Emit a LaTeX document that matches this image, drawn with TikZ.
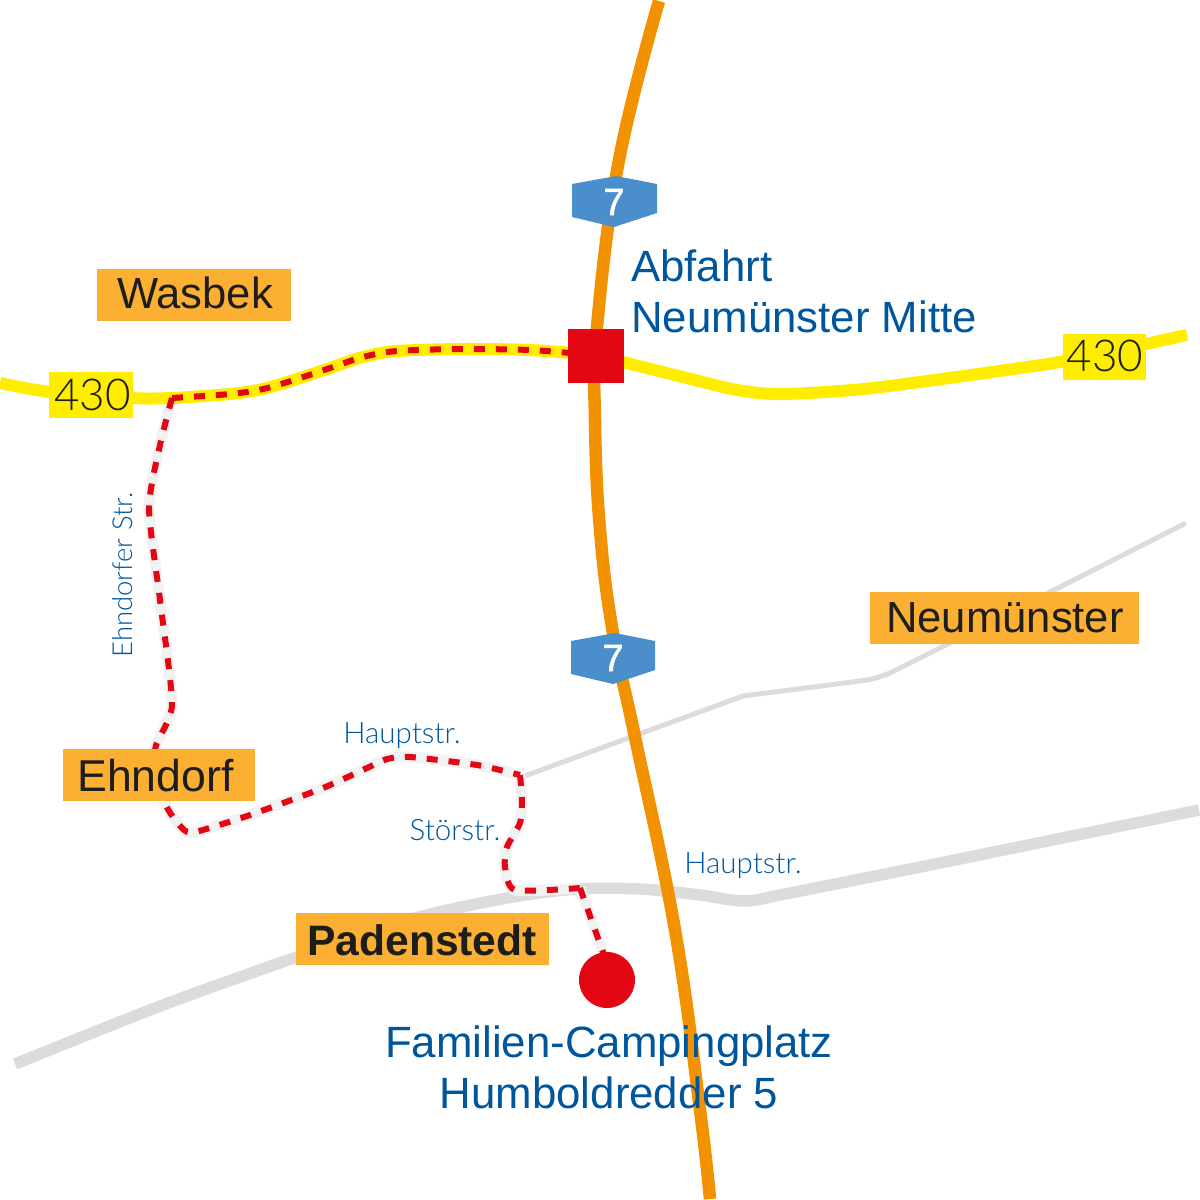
\documentclass[tikz,border=0pt]{standalone}
\usepackage{fontspec}
\setmainfont{Liberation Sans}
\newfontfamily\medf{Liberation Sans}[FakeBold=1.6]
\newfontfamily\lightf{Lato Light}
\begin{document}
\begin{tikzpicture}[x=1pt,y=-1pt,
  placetxt/.style={text=txtK,inner sep=0pt,font=\fontsize{43.6}{45}\selectfont,anchor=base},
  roadno/.style={text=txtK,inner sep=0pt,font=\lightf\fontsize{44}{44}\selectfont},
  bluelab/.style={text=blueC,inner sep=0pt,font=\fontsize{43.8}{44}\selectfont,anchor=base west},
  smalllab/.style={text=blueC,inner sep=0pt,font=\lightf\fontsize{29.5}{30}\selectfont},
  hexa/.style={fill=hexC},
  hexno/.style={text=white,inner sep=0pt,font=\medf\fontsize{38}{38}\selectfont},
  autobahn/.style={draw=orangeC,line width=12.5pt},
  bstrasse/.style={draw=yelC,line width=12pt},
  casing/.style={draw=caseC,line width=11pt,line join=round},
  routeline/.style={draw=redC,line width=6pt,dash pattern=on 11pt off 11pt},
]
\definecolor{placeC}{HTML}{FBB034}
\definecolor{yelC}{HTML}{FFED00}
\definecolor{txtK}{HTML}{1D1D1B}
\definecolor{blueC}{HTML}{00569C}
\definecolor{hexC}{HTML}{4A8FCB}
\definecolor{orangeC}{HTML}{F39200}
\definecolor{redC}{HTML}{E30613}
\definecolor{caseC}{HTML}{F2F2F2}
\definecolor{grayC}{HTML}{DCDCDC}
\useasboundingbox (0,0) rectangle (1200,1200);
% grey roads
\draw[grayC,line width=5pt,line join=round] (522,777) -- (743,696) -- (860,681) .. controls (872,679.5) and (880,677) .. (890,673) -- (940,648) -- (1186,523);
\draw[grayC,line width=11.5pt] plot[smooth,tension=.5] coordinates {(15,1064) (163,1005) (297,957) (415,918) (513,897) (577,889) (640,889) (700,895) (745,901) (790,893) (940,863) (1199,810)};
% route casing
\draw[casing] plot[smooth,tension=.4] coordinates {(172,398) (160,445) (149,508) (160,600) (172,705) (155,750) (165,803) (182,828) (195,832) (250,815) (323,788) (367,768) (387,759) (410,757) (477,765) (520,775)};
\draw[casing] plot[smooth,tension=.4] coordinates {(520,775) (522,800) (520,823) (507,847) (505,867) (515,890) (580,888)};
\draw[casing] (580,888) -- (604,955);
% motorway and federal road
\draw[autobahn] plot[smooth,tension=.7] coordinates {(659,1) (619,160) (597,327) (595,420) (600,530) (613,633) (635,737) (675,930) (700,1110) (710,1199)};
\draw[bstrasse] plot[smooth,tension=.5] coordinates {(0,383) (50,392) (130,398) (172,398) (230,394) (263,389) (297,379) (330,368) (363,357) (397,351) (463,349) (530,350) (596,355)};
\draw[bstrasse] plot[smooth,tension=.5] coordinates {(596,354) (623,362) (687,378) (737,390) (780,394) (853,390) (920,382) (1020,368) (1070,360) (1187,335)};
% route
\draw[routeline] plot[smooth,tension=.5] coordinates {(172,398) (230,394) (263,389) (297,379) (330,368) (363,357) (397,351) (463,349) (530,350) (570,353)};
\draw[routeline] plot[smooth,tension=.4] coordinates {(172,398) (160,445) (149,508) (160,600) (172,705) (155,750) (165,803) (182,828) (195,832) (250,815) (323,788) (367,768) (387,759) (410,757) (477,765) (520,775)};
\draw[routeline] plot[smooth,tension=.4] coordinates {(520,775) (522,800) (520,823) (507,847) (505,867) (515,890) (580,888)};
\draw[routeline] (580,888) -- (604,955);
% markers
\fill[redC] (568,329) rectangle (624,383);
\fill[redC] (607,980) circle (28);
% shields
\fill[hexa] (572,184) -- (616,176) -- (657,184) -- (657,213) -- (614,227) -- (572,217) -- cycle;
\fill[hexa] (571,641) -- (615,633) -- (655,641) -- (655,670) -- (613,684) -- (571,674) -- cycle;
\node[hexno] (a7top) at (614,202) {7};
\node[hexno] (a7bot) at (613,658) {7};
% road numbers
\fill[yelC] (49,372) rectangle (133,418);
\fill[yelC] (1063,334) rectangle (1146,380);
\node[roadno] (b430l) at (92.5,395) {430};
\node[roadno] (b430r) at (1105,356) {430};
% places
\fill[placeC] (97,269) rectangle (291,321);
\fill[placeC] (870,592) rectangle (1139,644);
\fill[placeC] (63,749) rectangle (255,801);
\fill[placeC] (296,913) rectangle (549,965);
\node[placetxt] (wasbek) at (195,308) {Wasbek};
\node[placetxt] (neum) at (1005,632) {Neumünster};
\node[placetxt,font=\fontsize{44.6}{45}\selectfont] (ehn) at (155.5,791) {Ehndorf};
\node[placetxt,font=\bfseries\fontsize{42.6}{45}\selectfont] (pad) at (422,955) {Padenstedt};
% blue labels
\node[bluelab] (abf1) at (631,281) {Abfahrt};
\node[bluelab] (abf2) at (631,332) {Neumünster Mitte};
\node[bluelab,anchor=base] (fam1) at (609,1057) {Familien-Campingplatz};
\node[bluelab,anchor=base] (fam2) at (609,1108) {Humboldredder 5};
% street labels
\node[smalllab,anchor=base] (s1) at (402,743) {Hauptstr.};
\node[smalllab,anchor=base] (s2) at (455,840) {Störstr.};
\node[smalllab,anchor=base] (s3) at (743,873) {Hauptstr.};
\node[smalllab,anchor=base,rotate=90,font=\lightf\fontsize{27.5}{30}\selectfont] (s4) at (132,575) {Ehndorfer Str.};
\end{tikzpicture}
\end{document}
